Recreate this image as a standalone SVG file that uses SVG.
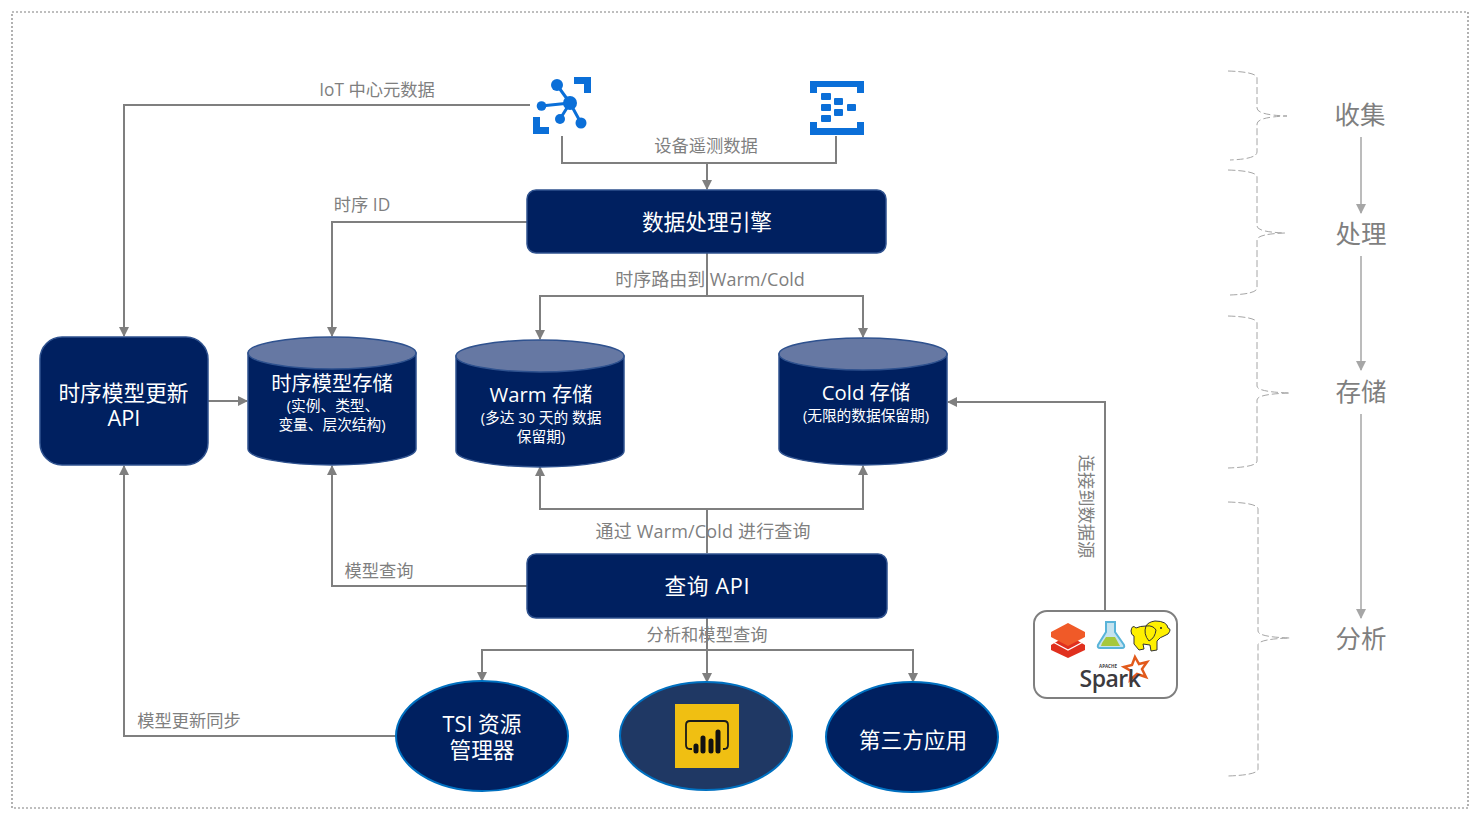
<svg xmlns="http://www.w3.org/2000/svg" width="1480" height="819" viewBox="0 0 1480 819">
<style>
text{font-family:"Open Sans","Noto Sans CJK SC",sans-serif;text-anchor:middle}
.lb{font-size:17.300px;fill:#7f7f7f}
.lw{font-size:18px;fill:#7f7f7f}
.side{font-size:25.500px;fill:#7f7f7f}
.t{fill:#fff;font-size:21.700px}
.m{fill:#fff;font-size:20.300px}
.s{fill:#fff;font-size:14.700px}
.box{fill:#002060;stroke:#2f528f;stroke-width:1.5}
.lid{fill:#6678a3;stroke:#2f528f;stroke-width:1.5}
.c{fill:none;stroke:#7f7f7f;stroke-width:2;marker-end:url(#a)}
.n{fill:none;stroke:#7f7f7f;stroke-width:2}
.f{fill:none;stroke:#a6a6a6;stroke-width:1.5;marker-end:url(#b)}
.br{fill:none;stroke:#a6a6a6;stroke-width:1;stroke-dasharray:7 3}
.az{fill:#0b6fd8}
.azl{stroke:#0b6fd8;stroke-width:3;fill:none}
</style>
<defs>
<marker id="a" markerUnits="userSpaceOnUse" markerWidth="10" markerHeight="10" refX="9" refY="5" orient="auto"><path d="M0 0L10 5L0 10Z" fill="#7f7f7f"/></marker>
<marker id="b" markerUnits="userSpaceOnUse" markerWidth="10" markerHeight="10" refX="9" refY="5" orient="auto"><path d="M0 0L10 5L0 10Z" fill="#a6a6a6"/></marker>
</defs>
<rect width="1480" height="819" fill="#fff"/>
<rect x="12" y="12" width="1456" height="796" fill="none" stroke="#7f7f7f" stroke-width="1.2" stroke-dasharray="2 2"/>

<g id="connectors">
<path class="c" d="M530 105H124V336"/>
<path class="n" d="M562 136V163H836V136"/>
<path class="c" d="M707 163V189"/>
<path class="c" d="M527 222H332V336"/>
<path class="n" d="M707 253V296"/>
<path class="c" d="M707 296H540V339"/>
<path class="c" d="M707 296H863V337"/>
<path class="c" d="M208 401H247"/>
<path class="n" d="M707 553V509"/>
<path class="c" d="M707 509H540V467"/>
<path class="c" d="M707 509H863V466"/>
<path class="c" d="M527 586H332V466"/>
<path class="c" d="M707 618V682"/>
<path class="c" d="M707 650H482V681"/>
<path class="c" d="M707 650H913V682"/>
<path class="c" d="M396 736H124V466"/>
<path class="c" d="M1105 611V402H948"/>
<path class="f" d="M1361 137V213"/>
<path class="f" d="M1361 256V370"/>
<path class="f" d="M1361 414V618"/>
</g>

<g id="connector-labels">
<text class="lb" x="377" y="96">IoT 中心元数据</text>
<text class="lb" x="706" y="152">设备遥测数据</text>
<text class="lb" x="362" y="211">时序 ID</text>
<text class="lw" x="710" y="286">时序路由到 Warm/Cold</text>
<text class="lw" x="703" y="538" textLength="215">通过 Warm/Cold 进行查询</text>
<text class="lb" x="379" y="577">模型查询</text>
<text class="lb" x="707" y="641">分析和模型查询</text>
<text class="lb" x="189" y="727">模型更新同步</text>
<text class="lb" transform="translate(1080 506.500) rotate(90)">连接到数据源</text>
</g>

<g id="iot-hub">
<path class="az" d="M574 77H591V93H584V84H574ZM533 117H540V127H549V134H533Z"/>
<g class="azl"><path d="M570 103L557 85M570 103L541 106M570 103L560 119M570 103L581 123"/></g>
<g class="az"><circle cx="570" cy="103" r="7"/><circle cx="557" cy="85" r="6"/><circle cx="541.500" cy="106" r="4.800"/><circle cx="560" cy="119" r="5"/><circle cx="581" cy="123" r="5.500"/></g>
</g>
<g id="event-hub" class="az">
<path d="M810 81H864V93H857V87H817V93H810ZM810 122H817V128H857V122H864V135H810Z"/>
<rect x="821" y="93" width="10" height="7" rx="1"/><rect x="821" y="104" width="10" height="7" rx="1"/><rect x="821" y="115" width="10" height="7" rx="1"/><rect x="834" y="98" width="9" height="7" rx="1"/><rect x="834" y="109" width="9" height="7" rx="1"/><rect x="847" y="104" width="9" height="7" rx="1"/>
</g>

<g id="engine"><rect class="box" x="527" y="190" width="359" height="63" rx="9"/><text class="t" x="707" y="230">数据处理引擎</text></g>
<g id="update-api"><rect class="box" x="40" y="337" width="168" height="128" rx="22"/><text class="t" x="123.500" y="401">时序模型更新</text><text class="t" x="124" y="426">API</text></g>

<g id="model-store">
<path class="box" d="M248 353V449C248 458 286 465 332 465S416 458 416 449V353Z"/><ellipse class="lid" cx="332" cy="353" rx="84" ry="16"/>
<text class="m" x="332" y="391">时序模型存储</text><text class="s" x="333" y="411">(实例、类型、</text><text class="s" x="332" y="430">变量、层次结构)</text>
</g>
<g id="warm-store">
<path class="box" d="M456 356V451C456 460 494 467 540 467S624 460 624 451V356Z"/><ellipse class="lid" cx="540" cy="356" rx="84" ry="16"/>
<text class="m" x="541" y="402">Warm 存储</text><text class="s" x="541" y="423">(多达 30 天的 数据</text><text class="s" x="541" y="442">保留期)</text>
</g>
<g id="cold-store">
<path class="box" d="M779 354V449C779 458 817 465 863 465S947 458 947 449V354Z"/><ellipse class="lid" cx="863" cy="354" rx="84" ry="16"/>
<text class="m" x="866" y="400">Cold 存储</text><text class="s" x="866" y="421">(无限的数据保留期)</text>
</g>

<g id="query-api"><rect class="box" x="527" y="554" width="360" height="64" rx="9"/><text class="t" x="707" y="594" textLength="85">查询 API</text></g>

<g id="tsi-explorer"><ellipse cx="482" cy="736" rx="86" ry="55" fill="#002060" stroke="#0070c0" stroke-width="2"/><text class="t" x="482" y="732">TSI 资源</text><text class="t" x="482" y="758">管理器</text></g>
<g id="power-bi">
<ellipse cx="706" cy="736" rx="86" ry="54" fill="#1f3864" stroke="#0070c0" stroke-width="2"/>
<rect x="675" y="704" width="64" height="64" fill="#f0bf12"/>
<path d="M692 749H690Q686 749 686 745V725Q686 721 690 721H724Q728 721 728 725V745Q728 749 724 749H723" fill="none" stroke="#1a1a1a" stroke-width="1.800"/>
<g stroke="#111" stroke-width="5" stroke-linecap="round"><path d="M696 746V751M703 738V751M711 741V751M718 732V751"/></g>
</g>
<g id="third-party"><ellipse cx="912" cy="737" rx="86" ry="55" fill="#002060" stroke="#0070c0" stroke-width="2"/><text class="t" x="913" y="748">第三方应用</text></g>

<g id="sources">
<rect x="1034" y="611" width="143" height="87" rx="13" fill="#fff" stroke="#7f7f7f" stroke-width="2"/>
<path d="M1068 635L1085 645V650L1068 658L1051 650V645Z" fill="#e0301e"/>
<path d="M1068 623L1085 632V637L1068 646L1051 637V632Z" fill="#f05a28"/>
<path d="M1085 641L1068 650L1051 641" fill="none" stroke="#fff" stroke-width="1.200"/>
<path d="M1106 622H1115V632L1124 645Q1125 648 1122 648H1100Q1097 648 1098 645L1106 632Z" fill="#c5e3ef" stroke="#59b4d9" stroke-width="2"/>
<path d="M1102 643L1106 637L1115 637L1120 646H1101Z" fill="#a6c83c"/>
<g stroke="#333" stroke-width="1" fill="#fff000">
<path d="M1136 628Q1132 624 1131 631Q1131 635 1134 636L1134 644L1139 650L1144 649L1143 644L1150 645L1151 651L1157 650L1157 641Q1160 637 1164 636L1168 634Q1172 629 1168 628Q1167 621 1155 621Q1148 622 1146 626Q1140 626 1136 628Z"/>
<path d="M1146 626Q1143 634 1149 641Q1155 638 1156 630Q1153 625 1146 626Z"/>
</g>
<circle cx="1161" cy="628" r="1" fill="#222"/>
<path d="M1135 657L1139 664L1147 662L1142 669L1146 677L1137 674L1130 680L1131 671L1124 667L1132 665Z" fill="none" stroke="#e25a1c" stroke-width="2.500"/>
<text x="1110" y="687" style="font-size:23px;font-weight:600;fill:#3c3a3e;letter-spacing:-.5px">Spark</text>
<text x="1108" y="668" style="font-size:4.500px;font-weight:700;fill:#3c3a3e">APACHE</text>
</g>

<g id="stages">
<path class="br" d="M1228 71Q1257 72 1257 78V108Q1257 115 1287 116Q1257 117 1257 124V152Q1257 159 1230 160"/>
<path class="br" d="M1228 170Q1257 171 1257 177V226Q1257 232 1285 233Q1257 234 1257 240V288Q1257 294 1230 295"/>
<path class="br" d="M1228 316Q1257 317 1257 323V386Q1257 392 1290 393Q1257 394 1257 400V461Q1257 467 1228 468"/>
<path class="br" d="M1228 502Q1258 503 1258 509V631Q1258 637 1290 638Q1258 639 1258 645V769Q1258 775 1228 776"/>
<text class="side" x="1360" y="124">收集</text>
<text class="side" x="1361" y="243">处理</text>
<text class="side" x="1361" y="401">存储</text>
<text class="side" x="1361" y="648">分析</text>
</g>
</svg>
